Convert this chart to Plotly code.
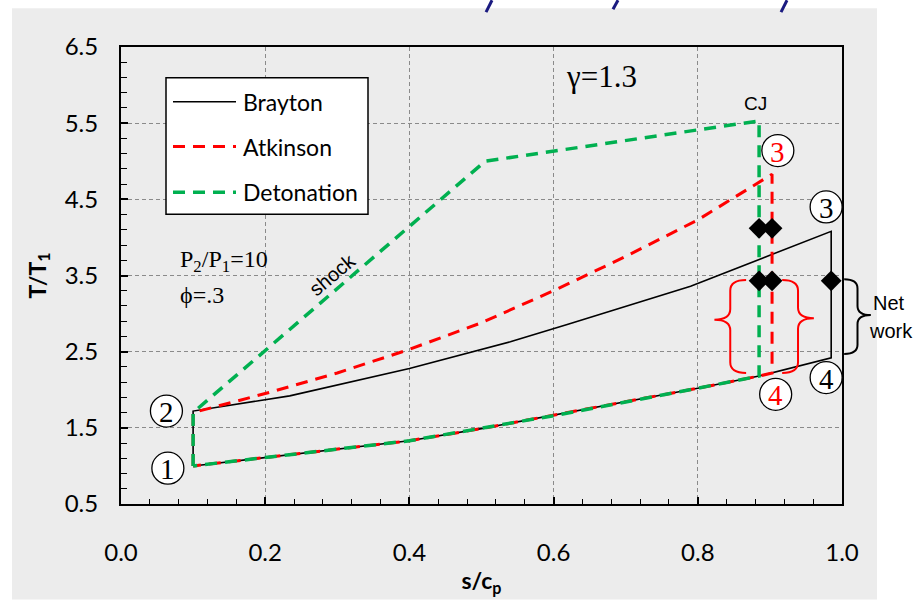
import plotly.graph_objects as go

# ---------------- data ----------------
brayton_s = [0.1, 0.1, 0.234, 0.4, 0.54, 0.62, 0.79, 0.985, 0.985, 0.903, 0.885, 0.8, 0.6, 0.5, 0.4, 0.2, 0.1]
brayton_T = [1.0, 1.72, 1.92, 2.28, 2.63, 2.86, 3.36, 4.08, 2.42, 2.22, 2.18, 2.02, 1.66, 1.49, 1.33, 1.11, 1.0]

atkinson_s = [0.1, 0.1, 0.2, 0.3, 0.4, 0.5, 0.6, 0.7, 0.8, 0.903, 0.903, 0.885, 0.8, 0.6, 0.5, 0.4, 0.2, 0.1]
atkinson_T = [1.0, 1.7, 1.95, 2.22, 2.53, 2.88, 3.3, 3.75, 4.23, 4.83, 2.22, 2.18, 2.02, 1.66, 1.49, 1.33, 1.11, 1.0]

detonation_s = [0.1, 0.1, 0.505, 0.885, 0.885, 0.8, 0.6, 0.5, 0.4, 0.2, 0.1]
detonation_T = [1.0, 1.7, 5.0, 5.53, 2.18, 2.02, 1.66, 1.49, 1.33, 1.11, 1.0]

marker_s = [0.885, 0.903, 0.885, 0.903, 0.985]
marker_T = [4.12, 4.12, 3.43, 3.43, 3.43]

x_ticks = [0.0, 0.2, 0.4, 0.6, 0.8, 1.0]
y_ticks = [0.5, 1.5, 2.5, 3.5, 4.5, 5.5, 6.5]

series_names = ["Brayton", "Atkinson", "Detonation"]
series_colors = ["#000000", "#ff0000", "#00b050"]

# state labels: (text, s, T, digit colour)
state_labels = [
    ("1", 0.065, 0.97, "#000000"),
    ("2", 0.063, 1.72, "#000000"),
    ("3", 0.978, 4.40, "#000000"),
    ("3", 0.911, 5.14, "#ff0000"),
    ("4", 0.978, 2.16, "#000000"),
    ("4", 0.908, 1.94, "#ff0000"),
]

# ---------------- geometry helpers ----------------
W, H = 921, 602
ML, MR, MT, MB = 121, 79, 47, 96
PW, PH = W - ML - MR, H - MT - MB


def px_x(px):
    return (px - ML) / PW


def px_y(py):
    return (H - MB - py) / PH


def brace(x_end, x_tip, y0, y1, ym, r=0.14):
    xm = (x_end + x_tip) / 2
    return (f"M {x_end},{y1} Q {xm},{y1} {xm},{y1 - r} L {xm},{ym + r} "
            f"Q {xm},{ym} {x_tip},{ym} Q {xm},{ym} {xm},{ym - r} "
            f"L {xm},{y0 + r} Q {xm},{y0} {x_end},{y0}")


fig = go.Figure()

fig.add_trace(go.Scatter(x=brayton_s, y=brayton_T, mode="lines", name=series_names[0],
                         line=dict(color=series_colors[0], width=1.6), showlegend=False))
fig.add_trace(go.Scatter(x=atkinson_s, y=atkinson_T, mode="lines", name=series_names[1],
                         line=dict(color=series_colors[1], width=3, dash="12px,8px"), showlegend=False))
fig.add_trace(go.Scatter(x=detonation_s, y=detonation_T, mode="lines", name=series_names[2],
                         line=dict(color=series_colors[2], width=3.5, dash="12px,8px"), showlegend=False))
fig.add_trace(go.Scatter(x=marker_s, y=marker_T, mode="markers", showlegend=False,
                         marker=dict(symbol="diamond", size=16, color="black")))

shapes = []
# grey page background
shapes.append(dict(type="rect", xref="paper", yref="paper", layer="below",
                   x0=px_x(12), x1=px_x(877), y0=px_y(602), y1=px_y(8),
                   fillcolor="#ececec", line=dict(width=0)))

# bits of the slide title that is cut off at the top edge
for (xa, ya, xb, yb) in [(492, 0, 486, 12), (618, 0, 613, 9), (787, 0, 781, 12)]:
    shapes.append(dict(type="line", xref="paper", yref="paper",
                       x0=px_x(xa), y0=px_y(ya), x1=px_x(xb), y1=px_y(yb),
                       line=dict(color="#1a1a80", width=3)))

# manual legend
shapes.append(dict(type="rect", xref="paper", yref="paper",
                   x0=px_x(166), x1=px_x(368), y0=px_y(215), y1=px_y(78),
                   fillcolor="white", line=dict(color="black", width=1.5)))
leg_y = [102, 147, 193]
leg_dash = ["solid", "12px,8px", "12px,8px"]
leg_w = [1.6, 3, 3.5]
annotations = []
for name, col, ly, dsh, lw in zip(series_names, series_colors, leg_y, leg_dash, leg_w):
    shapes.append(dict(type="line", xref="paper", yref="paper",
                       x0=px_x(173), x1=px_x(236), y0=px_y(ly), y1=px_y(ly),
                       line=dict(color=col, width=lw, dash=dsh)))
    annotations.append(dict(text=name, xref="paper", yref="paper", x=px_x(241), y=px_y(ly),
                            xanchor="left", yanchor="middle", showarrow=False,
                            font=dict(family="Lato", size=23, color="black")))

# braces
shapes.append(dict(type="path", xref="x", yref="y", path=brace(0.867, 0.823, 2.22, 3.44, 2.92),
                   line=dict(color="#ff0000", width=2)))
shapes.append(dict(type="path", xref="x", yref="y", path=brace(0.917, 0.961, 2.22, 3.44, 2.94),
                   line=dict(color="#ff0000", width=2)))
shapes.append(dict(type="path", xref="paper", yref="y", path=brace(1.003, 1.040, 2.47, 3.45, 2.98, r=0.12),
                   line=dict(color="black", width=2)))

# circled state numbers
for txt, sx, sy, col in state_labels:
    shapes.append(dict(type="circle", xref="paper", yref="y", xsizemode="pixel", ysizemode="pixel",
                       xanchor=sx, yanchor=sy, x0=-16, x1=16, y0=-16, y1=16,
                       fillcolor="white", line=dict(color="black", width=1.3)))
    annotations.append(dict(text=txt, xref="paper", yref="y", x=sx, y=sy, yshift=-1,
                            showarrow=False, xanchor="center", yanchor="middle",
                            font=dict(family="Liberation Serif", size=29, color=col)))


def label(text, px, py, family, size, angle=0, color="black", xanchor="center", yanchor="middle"):
    return dict(text=text, x=px_x(px), y=px_y(py), xref="paper", yref="paper", showarrow=False,
                xanchor=xanchor, yanchor=yanchor, textangle=angle,
                font=dict(family=family, size=size, color=color))


serif = "Liberation Serif"
sans = "Liberation Sans"
annotations += [
    label("\u03b3=1.3", 601, 77, serif, 31),
    label("P<sub>2</sub>/P<sub>1</sub>=10", 178, 262, serif, 24, xanchor="left"),
    label("\u03d5=.3", 178, 296, serif, 24, xanchor="left"),
    label("CJ", 755, 104, sans, 19),
    label("shock", 332, 276, sans, 20, angle=-40),
    label("Net", 889, 304, sans, 20),
    label("work", 891, 332, sans, 20),
]

axis_common = dict(showline=True, linecolor="black", linewidth=2, mirror=True,
                   ticks="inside", tickcolor="black", tickwidth=2, ticklen=7,
                   showgrid=True, gridcolor="#8a8a8a", gridwidth=1, griddash="4px,3px",
                   zeroline=False, tickfont=dict(family="Lato", size=24, color="black"))

fig.update_layout(
    width=W, height=H, autosize=False,
    margin=dict(l=ML, r=MR, t=MT, b=MB, pad=0),
    paper_bgcolor="white", plot_bgcolor="white",
    shapes=shapes, annotations=annotations, showlegend=False,
    xaxis=dict(range=[0, 1], tickvals=x_ticks, ticktext=[f"{v:.1f}" for v in x_ticks],
               minor=dict(dtick=0.04, tick0=0, ticks="inside", ticklen=5, tickcolor="black",
                          tickwidth=1.2, showgrid=False),
               ticklabelstandoff=26,
               title=dict(text="<b>s/c<sub>p</sub></b>", standoff=8,
                          font=dict(family="Lato", size=23, color="black")),
               **axis_common),
    yaxis=dict(range=[0.5, 6.5], tickvals=y_ticks, ticktext=[f"{v:.1f}" for v in y_ticks],
               minor=dict(dtick=0.2, tick0=0.5, ticks="inside", ticklen=6, tickcolor="black",
                          tickwidth=1.2, showgrid=False),
               ticklabelstandoff=16,
               title=dict(text="<b>T/T<sub>1</sub></b>", standoff=12,
                          font=dict(family="Lato", size=23, color="black")),
               **axis_common),
)

fig.write_html("out.html")
